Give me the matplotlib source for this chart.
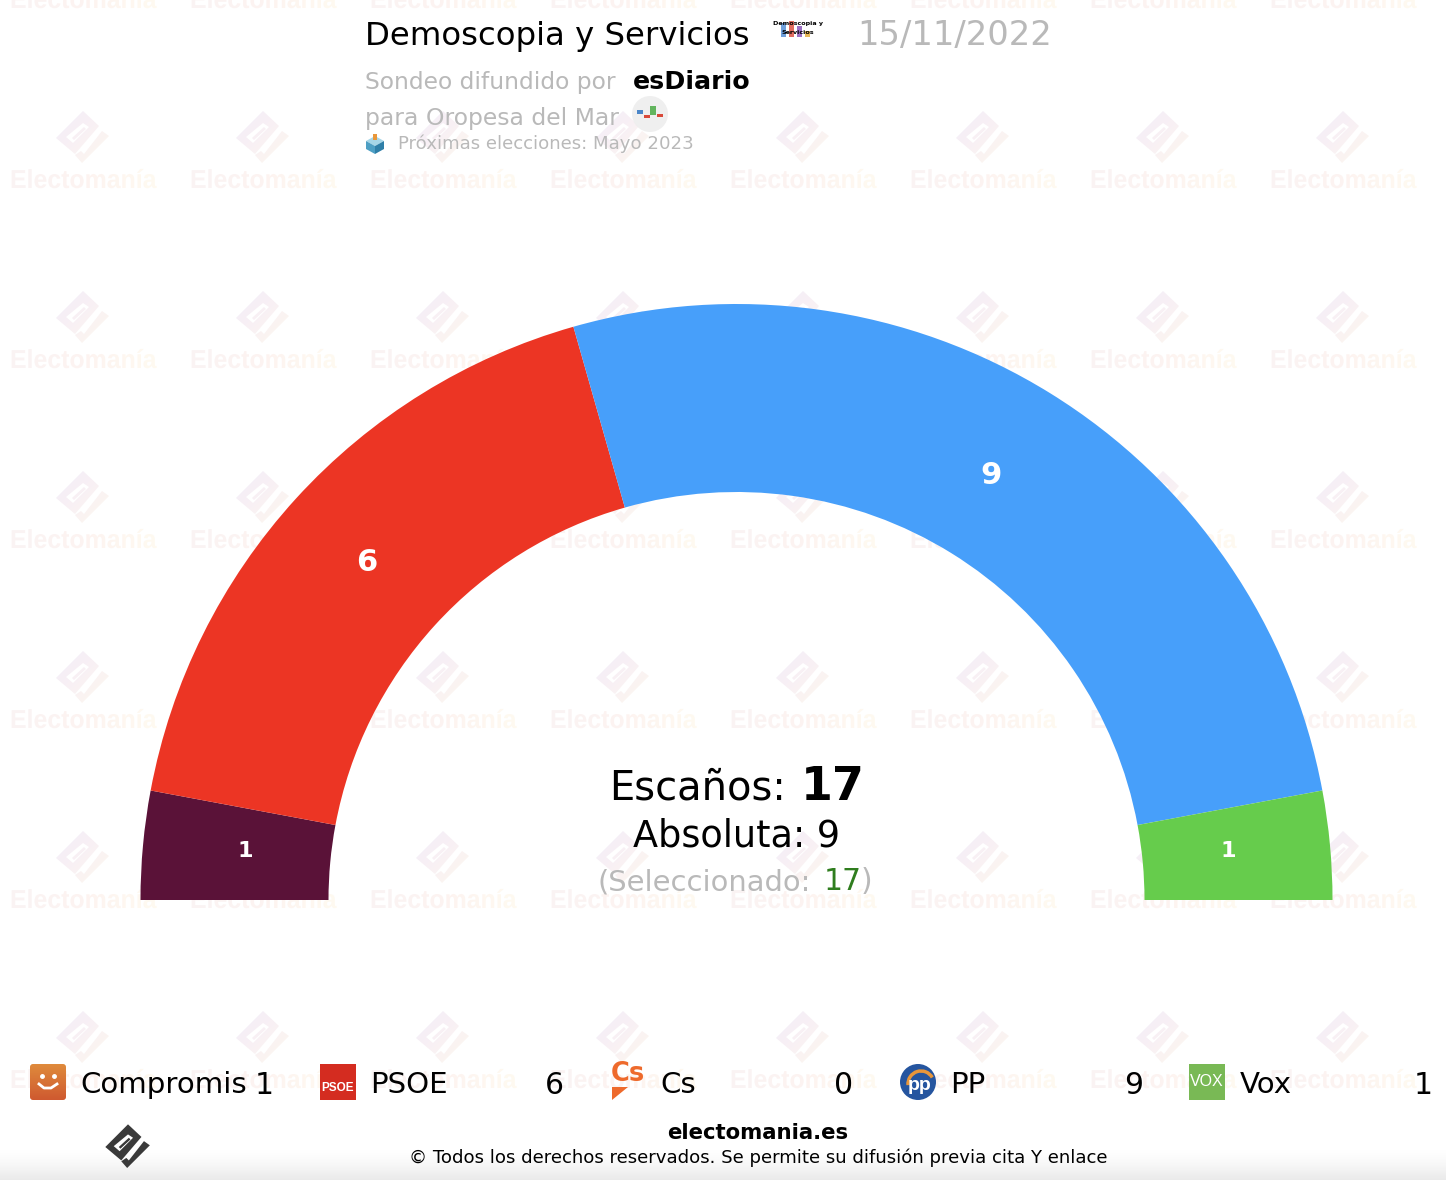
import numpy as np
import matplotlib
matplotlib.use('Agg')
import matplotlib.pyplot as plt
from matplotlib.patches import Arc, Circle, FancyBboxPatch, PathPatch, Polygon, Rectangle
from matplotlib.path import Path
from matplotlib.textpath import TextPath
from matplotlib.font_manager import FontProperties
from matplotlib.transforms import Affine2D
from matplotlib.colors import LinearSegmentedColormap

partidos = ['Compromis', 'PSOE', 'Cs', 'PP', 'Vox']
escanos = [1, 6, 0, 9, 1]
colores = ['#5a1238', '#ec3524', '#f0662a', '#479ffa', '#66cc4c']
mayoria = 9
seleccionado = 17
titulo = 'Demoscopia y Servicios'
fecha = '15/11/2022'
medio = 'esDiario'
ambito = 'para Oropesa del Mar'
proximas = 'Próximas elecciones: Mayo 2023'

W, H = 1446, 1180
GREY = '#b9b9b9'
plt.rcParams['font.family'] = ['DejaVu Sans']

fig = plt.figure(figsize=(W / 100, H / 100), dpi=100)
ax = fig.add_axes([0, 0, 1, 1], zorder=1)
ax.set_xlim(0, W)
ax.set_ylim(H, 0)
ax.axis('off')


def icon_paths(cx, cy, s=1.0):
    # logo rombo + check, coordenadas relativas al centro del logo
    outer = [(0, -27), (16, -12), (-8, 16), (-27, 0)]
    hole = [(0, -15), (-17, -1), (-10, 5), (6, -11)]
    bar = [(1, -11), (-11, 0), (-9, 2), (3, -9)]
    check = [(26, -2), (-1, 25), (-8, 17), (-2, 13), (1, 16), (19, -7)]
    polys = []
    for pts in (outer, hole, bar, check):
        v = np.array(pts + [pts[0]], float) * s + [cx, cy]
        c = [Path.MOVETO] + [Path.LINETO] * (len(pts) - 1) + [Path.CLOSEPOLY]
        polys.append(Path(v, c))
    return polys


# marca de agua
fp_wm = FontProperties(family='Liberation Sans', weight='bold')
text_paths, logo_paths = [], []
for i in range(8):
    for j in range(-1, 6):
        cx, cy = 83 + 180 * i, 138 + 180 * j
        logo_paths += icon_paths(cx, cy)
        tp = TextPath((0, 0), 'Electomanía', size=26, prop=fp_wm)
        tw = tp.get_extents().width
        tp = tp.transformed(Affine2D().scale(145 / tw, -1).translate(cx - 73, cy + 50))
        text_paths.append(tp)

xx, yy = np.meshgrid(np.arange(W), np.arange(H))
cm_text = LinearSegmentedColormap.from_list('t', ['#faf4f4', '#fdf3f1', '#fffaf0'])
cm_logo = LinearSegmentedColormap.from_list('l', ['#f1edf9', '#f8f0f5', '#fdf7ef'])
u_text = np.clip(((xx - 3) % 180 - 7) / 145, 0, 1)
u_logo = np.clip((((xx - 3) % 180 - 52) + ((yy - 21) % 180 - 90)) / 110 + 0.1, 0, 1)
for u, cm, paths in ((u_text, cm_text, text_paths), (u_logo, cm_logo, logo_paths)):
    im = ax.imshow(u, cmap=cm, vmin=0, vmax=1, extent=(0, W, H, 0), aspect='auto', zorder=1)
    im.set_clip_path(PathPatch(Path.make_compound_path(*paths), transform=ax.transData))

# degradado gris abajo
grad = ((np.arange(30) + 1) / 30)[:, None] ** 1.4
ax.imshow(np.dstack([np.full((30, 1, 3), 0.92), grad]), extent=(0, W, 1180, 1150),
          aspect='auto', zorder=1.5)
ax.set_xlim(0, W)
ax.set_ylim(H, 0)

# hemiciclo
R_OUT, R_IN = 596, 408
CX, CY = 736.5, 900
pie_ax = fig.add_axes([(CX - R_OUT) / W, 1 - (CY + R_OUT) / H, 2 * R_OUT / W, 2 * R_OUT / H], zorder=2)
total = sum(escanos)
pie_ax.pie(escanos + [total], colors=colores + ['none'], startangle=180, counterclock=False,
           radius=1, wedgeprops={'width': 1 - R_IN / R_OUT, 'linewidth': 0})
pie_ax.set_xlim(-1, 1)
pie_ax.set_ylim(-1, 1)
pie_ax.axis('off')
pie_ax.patch.set_alpha(0)

acum = np.cumsum([0] + escanos[:-1])
for n, a in zip(escanos, acum):
    if n == 0:
        continue
    ang = np.pi * (1 - (a + n / 2) / total)
    r = 0.84
    dy = 0.0
    if n == 1:
        r, dy = 0.828, 0.005
    if n == 9:
        # la etiqueta grande va un poco desplazada en el original
        r = 0.83
        ang += np.radians(0.8)
    pie_ax.text(r * np.cos(ang), r * np.sin(ang) + dy, str(n), color='white', weight='bold',
                ha='center', va='center', fontsize=22 if n > 1 else 16)

over = fig.add_axes([0, 0, 1, 1], zorder=3)
over.set_xlim(0, W)
over.set_ylim(H, 0)
over.axis('off')
over.patch.set_alpha(0)

# cabecera
over.text(365, 36, titulo, fontsize=23.3, color='black', va='center')
over.text(1052, 36, fecha, fontsize=24.3, color=GREY, va='center', ha='right')
over.text(365, 82, 'Sondeo difundido por', fontsize=16.8, color=GREY, va='center')
over.text(633, 82, medio, fontsize=18.2, color='black', weight='bold', va='center')
over.text(365, 119, ambito, fontsize=16.9, color=GREY, va='center')
over.text(398, 144, proximas, fontsize=13.05, color=GREY, va='center')

# logo encuestadora
for x0, h, c in ((781, 14, '#3f7fd0'), (789, 16, '#d63a2a'), (797, 11, '#7a3fb0'), (805, 6, '#e0a020')):
    over.add_patch(Rectangle((x0, 37 - h), 5, h, color=c, alpha=0.75, lw=0))
over.text(798, 23, 'Demoscopia y', fontsize=4.6, weight='bold', ha='center', va='center')
over.text(798, 33, 'Servicios', fontsize=4.6, weight='bold', ha='center', va='center')

# icono ambito
over.add_patch(Circle((650, 114), 18, color='#eeeeee', alpha=0.9, lw=0))
for x0, y0, y1, c in ((637, 110, 114, '#4a86c8'), (644, 115, 118, '#d8493a'),
                      (650, 106, 115, '#62b45e'), (657, 114, 117, '#d8493a')):
    over.add_patch(Rectangle((x0, y0), 6, y1 - y0, color=c, lw=0))

# icono urna
over.add_patch(Polygon([(375, 136), (384, 141), (375, 146), (366, 141)], color='#a6d6e8', lw=0))
over.add_patch(Polygon([(366, 141), (375, 146), (375, 154), (366, 149)], color='#4d9fc4', lw=0))
over.add_patch(Polygon([(384, 141), (375, 146), (375, 154), (384, 149)], color='#2f7fa8', lw=0))
over.add_patch(Rectangle((373, 134), 4, 6, color='#e9973a', lw=0))

# centro
over.text(786, 789, 'Escaños:', fontsize=28.8, ha='right', va='center')
over.text(801, 787, str(total), fontsize=33, weight='bold', ha='left', va='center')
over.text(736.5, 836, 'Absoluta: %d' % mayoria, fontsize=26.4, ha='center', va='center')
over.text(811, 882, '(Seleccionado:', fontsize=20.9, color=GREY, ha='right', va='center')
over.text(824, 882, str(seleccionado), fontsize=21.5, color='#2f7d1e', ha='left', va='center')
over.text(861, 882, ')', fontsize=21.5, color=GREY, ha='left', va='center')

# leyenda
LEG_Y = 1085
for k, (p, n) in enumerate(zip(partidos, escanos)):
    x0 = 30 + 290 * k - (1 if k == 4 else 0)
    over.text(x0 + 50.5, LEG_Y, p, fontsize=21.1, va='center', ha='left')
    over.text(x0 + 243.5, LEG_Y, str(n), fontsize=21.5, va='center', ha='right')
    if p == 'Compromis':
        im = over.imshow(np.linspace(0, 1, 36)[:, None],
                         cmap=LinearSegmentedColormap.from_list('c', ['#df8a3c', '#cf5a30']),
                         extent=(x0, x0 + 36, 1100, 1064), aspect='auto')
        box = FancyBboxPatch((x0, 1064), 36, 36, boxstyle='round,pad=0,rounding_size=3',
                             transform=over.transData)
        im.set_clip_path(box)
        over.plot([x0 + 9, x0 + 14, x0 + 21, x0 + 27], [1084, 1088, 1088, 1084], color='white', lw=2)
        over.plot([x0 + 12, x0 + 24], [1076, 1076], ls='none', marker='o', ms=2.5, color='white')
    elif p == 'PSOE':
        over.add_patch(Rectangle((x0, 1064), 36, 36, color='#d42c20', lw=0))
        over.text(x0 + 18, 1088, 'PSOE', fontsize=8.5, color='white', weight='bold',
                  family='Liberation Sans', ha='center', va='center')
    elif p == 'Cs':
        over.text(x0 + 18, 1074, 'Cs', fontsize=18.5, color='#ee6a2c', weight='bold', ha='center', va='center')
        over.add_patch(Polygon([(x0 + 2, 1087), (x0 + 18, 1087), (x0 + 2, 1100)], color='#ee6a2c', lw=0))
    elif p == 'PP':
        over.add_patch(Circle((x0 + 18, 1082), 18, color='#25559f', lw=0))
        over.add_patch(Arc((x0 + 21, 1084), 26, 26, theta1=175, theta2=330, color='#e8963a', lw=2.5))
        over.text(x0 + 20, 1086, 'pp', fontsize=14, color='white', weight='bold',
                  family='Liberation Sans', ha='center', va='center')
    elif p == 'Vox':
        over.add_patch(Rectangle((x0, 1064), 36, 36, color='#79b955', lw=0))
        over.text(x0 + 18, 1082, 'VOX', fontsize=11.5, color='white', family='Liberation Sans',
                  ha='center', va='center')
over.set_xlim(0, W)
over.set_ylim(H, 0)

# pie
over.text(758, 1133, 'electomania.es', fontsize=15.3, weight='bold', ha='center', va='center')
over.text(758, 1158, '© Todos los derechos reservados. Se permite su difusión previa cita Y enlace',
          fontsize=13.05, ha='center', va='center')
over.add_patch(PathPatch(Path.make_compound_path(*icon_paths(128, 1147, 0.84)), color='#3a3a3a', lw=0))

fig.savefig('out.png', dpi=100)
